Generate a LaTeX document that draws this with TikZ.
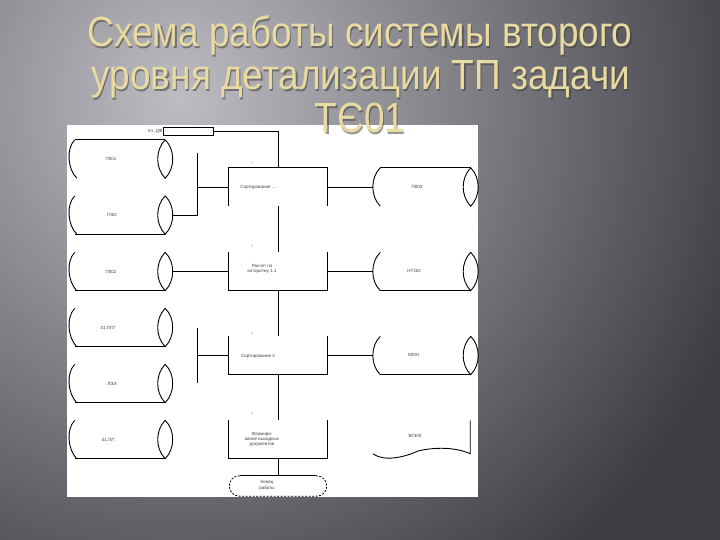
\documentclass[tikz,border=0pt]{standalone}
\usepackage{fontspec}
\setmainfont{Liberation Sans}
\usetikzlibrary{calc}
\definecolor{bgdark}{RGB}{60,60,66}
\definecolor{bglight}{RGB}{188,188,194}
\definecolor{titlecol}{RGB}{232,218,160}
\newcommand\StorL[2]{%
  \draw[ln] (#1.north west) .. controls +(-9,9) and +(-9,-9) .. ([xshift=2pt]#1.south west);
  \draw[ln] (#1.north east) .. controls +(-10,10) and +(-10,-10) .. (#1.south east)
            .. controls +(10,-10) and +(10,10) .. (#1.north east);
  \draw[ln] (#1.#2 west) -- (#1.#2 east);
}
\newcommand\StorR[2]{%
  \draw[ln] (#1.north west) .. controls +(-10,10) and +(-10,-10) .. (#1.south west);
  \draw[ln] (#1.north east) .. controls +(-10,10) and +(-10,-10) .. (#1.south east)
            .. controls +(10,-10) and +(10,10) .. (#1.north east);
  \draw[ln] (#1.#2 west) -- (#1.#2 east);
}
\begin{document}
\begin{tikzpicture}[x=1pt,y=-1pt,
  ln/.style={line width=0.9pt, black},
  dln/.style={line width=0.8pt, black, dash pattern=on 2pt off 1.5pt},
  lbl/.style={font=\fontsize{4.5}{5.2}\selectfont, text=black!75, inner sep=0.5pt, align=center},
  num/.style={font=\fontsize{3.5}{4}\selectfont, text=black!40, inner sep=0pt},
  ttl/.style={font=\fontsize{37}{40}\selectfont, text=titlecol, anchor=base, inner sep=0pt},
  ttlsh/.style={font=\fontsize{37}{40}\selectfont, text=black!75, anchor=base, inner sep=0pt, opacity=0.55},
  stor/.style={draw=none, minimum width=90pt, minimum height=38pt, inner sep=0pt},
  box/.style={draw=none, minimum width=98pt, minimum height=38pt, inner sep=0pt},
]
\useasboundingbox (0,0) rectangle (720,540);
\clip (0,0) rectangle (720,540);
\fill[bgdark] (0,0) rectangle (720,540);
\shade[inner color=bglight, outer color=bgdark] (-420,-500) rectangle (780,700);
% white panel
\fill[white] (67,125) rectangle (478,497);

% ---------- left storages ----------
\node[stor] (s1) at (120,159) {};
\node[stor] (s2) at (120,215) {};
\node[stor] (s3) at (120,271.5) {};
\node[stor] (s4) at (120,327.5) {};
\node[stor] (s5) at (120,383.5) {};
\node[stor] (s6) at (120,439.5) {};
\StorL{s1}{north}
\StorL{s2}{south}
\StorL{s3}{south}
\StorL{s4}{south}
\StorL{s5}{south}
\StorL{s6}{south}
\node[lbl] (l1) at (111,159) {П001};
\node[lbl] (l2) at (112,215) {Г002};
\node[lbl] (l3) at (111,271.5) {П002};
\node[lbl] (l4) at (108,327.5) {01.ЛЛ7};
\node[lbl] (l5) at (112,384) {ЛЭЭ};
\node[lbl] (l6) at (108,439.5) {01.ЛЛ};

% ---------- right storages ----------
\node[stor] (p1) at (425.5,187) {};
\node[stor] (p2) at (425.5,271.5) {};
\node[stor] (p3) at (425.5,355.5) {};
\StorR{p1}{north}
\StorR{p2}{south}
\StorR{p3}{south}
\node[lbl] (m1) at (417,187) {П003};
\node[lbl] (m2) at (414,271) {НТ202};
\node[lbl] (m3) at (414,355) {М001};

% document
\node[draw=none, minimum width=97pt, minimum height=33pt, inner sep=0pt] (d1) at (421.5,437) {};
\draw[ln] (d1.north east) -- (d1.south east)
  .. controls (455,447) and (435,447) .. (418,451)
  .. controls (405,457) and (385,462) .. (373,454);
\node[lbl] (m4) at (415,435.5) {ВГ305};

% ---------- process boxes ----------
\node[box] (b1) at (278,187) {};
\node[box] (b2) at (278,271.5) {};
\node[box] (b3) at (278,355.5) {};
\node[box] (b4) at (278,439) {};
\draw[ln] (b1.south west) -- (b1.north west) -- (b1.north east) -- (b1.south east);
\draw[ln] (b2.north west) -- (b2.south west) -- (b2.south east) -- (b2.north east);
\draw[ln] (b3.north west) -- (b3.south west) -- (b3.south east) -- (b3.north east);
\draw[ln] (b4.north west) -- (b4.south west) -- (b4.south east) -- (b4.north east);
\node[lbl] (t1) at (258,187) {Сортирование ...};
\node[lbl] (t2) at (262,269) {Расчет по\\алгоритму 1.1};
\node[lbl] (t3) at (258,356) {Сортирование 2};
\node[lbl] (t4) at (262,439.5) {Формиро-\\вание выходных\\документов};
\node[num] (n1) at (252,163) {1};
\node[num] (n2) at (252,246.5) {2};
\node[num] (n3) at (252,333) {3};
\node[num] (n4) at (252,413.5) {4};

% terminator
\node[draw=none, minimum width=98pt, minimum height=20pt, inner sep=0pt] (e1) at (278,486) {};
\draw[dln] ($(e1.north west)+(11,0)$) .. controls +(-14,0) and +(-14,0) .. ($(e1.south west)+(11,0)$)
  -- ($(e1.south east)+(-11,0)$) .. controls +(14,0) and +(14,0) .. ($(e1.north east)+(-11,0)$);
\draw[ln] ($(e1.north west)+(11,0)$) -- ($(e1.north east)+(-11,0)$);
\node[lbl] (te) at (267,485.5) {Конец\\работы};

% top small rectangle
\node[draw, line width=0.7pt, minimum width=50pt, minimum height=8pt, inner sep=0pt] (r0) at (188,131) {};
\node[lbl] (rl) at (155,131) {пл. ДФ};

% ---------- connectors ----------
\coordinate (j1) at (197,153);
\coordinate (j2) at (197,328);
\coordinate (j3) at (197,383);
\draw[ln] (r0.east) -| (b1.north);
\draw[ln] ([xshift=7.5pt]s2.east) -| (j1);
\draw[ln] (j1 |- b1.west) -- (b1.west);
\draw[ln] (b1.east) -- ([xshift=-7.5pt]p1.west);
\draw[ln] (b1.south) -- (b2.north);
\draw[ln] ([xshift=7.5pt]s3.east) -- (b2.west);
\draw[ln] (b2.east) -- ([xshift=-7.5pt]p2.west);
\draw[ln] (b2.south) -- (b3.north);
\draw[ln] (j2) -- (j3);
\draw[ln] (j2 |- b3.west) -- (b3.west);
\draw[ln] (b3.east) -- ([xshift=-7.5pt]p3.west);
\draw[ln] (b3.south) -- (b4.north);
\draw[ln] (b4.south) -- (e1.north);

% ---------- title ----------
\foreach \tx/\ty/\tt in {360/47/{Схема работы системы второго},361/90/{уровня детализации ТП задачи},360/133/{ТЄ01}}{
  \node[ttlsh] at (\tx+1.2,\ty+1.2) {\scalebox{1}[1.14]{\tt}};
  \node[ttl] at (\tx,\ty) {\scalebox{1}[1.14]{\tt}};
}
\end{tikzpicture}
\end{document}
